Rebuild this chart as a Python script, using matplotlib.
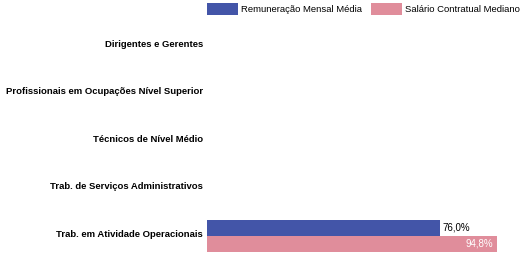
import numpy as np
import matplotlib.pyplot as plt

plt.rcParams['font.family'] = ['Liberation Sans', 'DejaVu Sans']

categorias = ['Dirigentes e Gerentes',
              'Profissionais em Ocupações Nível Superior',
              'Técnicos de Nível Médio',
              'Trab. de Serviços Administrativos',
              'Trab. em Atividade Operacionais']
remuneracao = [np.nan, np.nan, np.nan, np.nan, 76.0]
salario = [np.nan, np.nan, np.nan, np.nan, 94.8]

azul = '#4355a8'
rosa = '#e08d9b'

fig = plt.figure(figsize=(5.27, 2.56), dpi=100)
ax = fig.add_axes([0.393, 0.0, 0.581, 0.922])

y = np.arange(len(categorias))
h = 0.335
b1 = ax.barh(y - h / 2 + 0.02, remuneracao, height=h, color=azul, label='Remuneração Mensal Média')
b2 = ax.barh(y + h / 2 + 0.02, salario, height=h, color=rosa, label='Salário Contratual Mediano')

for i, v in enumerate(remuneracao):
    if not np.isnan(v):
        ax.text(v + 1, i - h / 2, f'{v:.1f}%'.replace('.', ','), va='center', ha='left',
                fontsize=7, color='black')
for i, v in enumerate(salario):
    if not np.isnan(v):
        ax.text(v - 1.3, i + h / 2 + 0.02, f'{v:.1f}%'.replace('.', ','), va='center', ha='right',
                fontsize=7, color='white')

ax.set_xlim(0, 100)
ax.set_ylim(4.44, -0.526)
ax.set_yticks(y - 0.04)
ax.set_yticklabels(categorias, fontsize=6.8, fontweight='bold')
ax.tick_params(axis='y', length=0, pad=3)
ax.set_xticks([])
for s in ax.spines.values():
    s.set_visible(False)

fig.legend(handles=[b1, b2], loc='upper left', bbox_to_anchor=(0.393, 0.988), ncol=2,
           frameon=False, fontsize=6.8, handlelength=3.3, handleheight=1.5,
           handletextpad=0.3, columnspacing=0.9, borderaxespad=0, borderpad=0)

fig.savefig('out.png', dpi=100)
